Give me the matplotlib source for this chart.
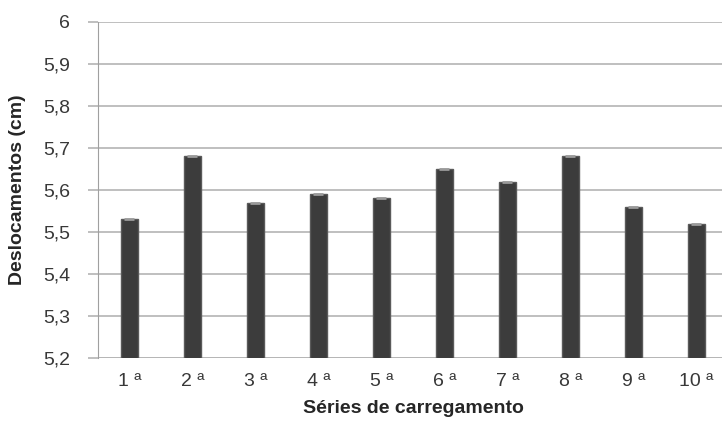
import numpy as np
import matplotlib.pyplot as plt
from matplotlib.ticker import MultipleLocator, FuncFormatter

series = ["1 ª", "2 ª", "3 ª", "4 ª", "5 ª", "6 ª", "7 ª", "8 ª", "9 ª", "10 ª"]
deslocamentos = [5.53, 5.68, 5.57, 5.59, 5.58, 5.65, 5.62, 5.68, 5.56, 5.52]

plt.rcParams['font.family'] = ['Liberation Sans', 'DejaVu Sans']

fig = plt.figure(figsize=(7.22, 4.33), dpi=100)
ax = fig.add_axes([0.1357, 0.1732, 0.8726, 0.776])

x = np.arange(len(series))
ax.bar(x, deslocamentos, width=0.28, color='#3c3c3c', edgecolor='#5a5a5a', linewidth=1.0, zorder=3)
# light cap on top of each bar
ax.scatter(x, deslocamentos, marker='_', s=60, color='#9a9a9a', linewidths=2, zorder=4)

ax.set_xlim(-0.5, len(series) - 0.5)
ax.set_ylim(5.2, 6.0)
ax.yaxis.set_major_locator(MultipleLocator(0.1))
ax.yaxis.set_major_formatter(FuncFormatter(lambda v, p: ('%g' % round(v, 1)).replace('.', ',')))
ax.set_xticks(x)
ax.set_xticklabels(series)

ax.grid(axis='y', color='#b4b4b4', linewidth=1.2, zorder=0)
for s in ['top', 'right', 'bottom']:
    ax.spines[s].set_visible(False)
ax.spines['left'].set_color('#a0a0a0')
ax.axhline(5.2, color='#b4b4b4', linewidth=1.2, zorder=1)

ax.tick_params(axis='y', length=7, color='#b4b4b4', width=1.2, pad=13, labelsize=14, labelcolor='#383838')
ax.tick_params(axis='x', length=0, pad=11, labelsize=14, labelcolor='#383838')

ax.set_xlabel("Séries de carregamento", fontsize=14, fontweight='bold', color='#262626', labelpad=7)
ax.set_ylabel("Deslocamentos (cm)", fontsize=14, fontweight='bold', color='#262626', labelpad=12)

fig.savefig("out.png", dpi=100)
